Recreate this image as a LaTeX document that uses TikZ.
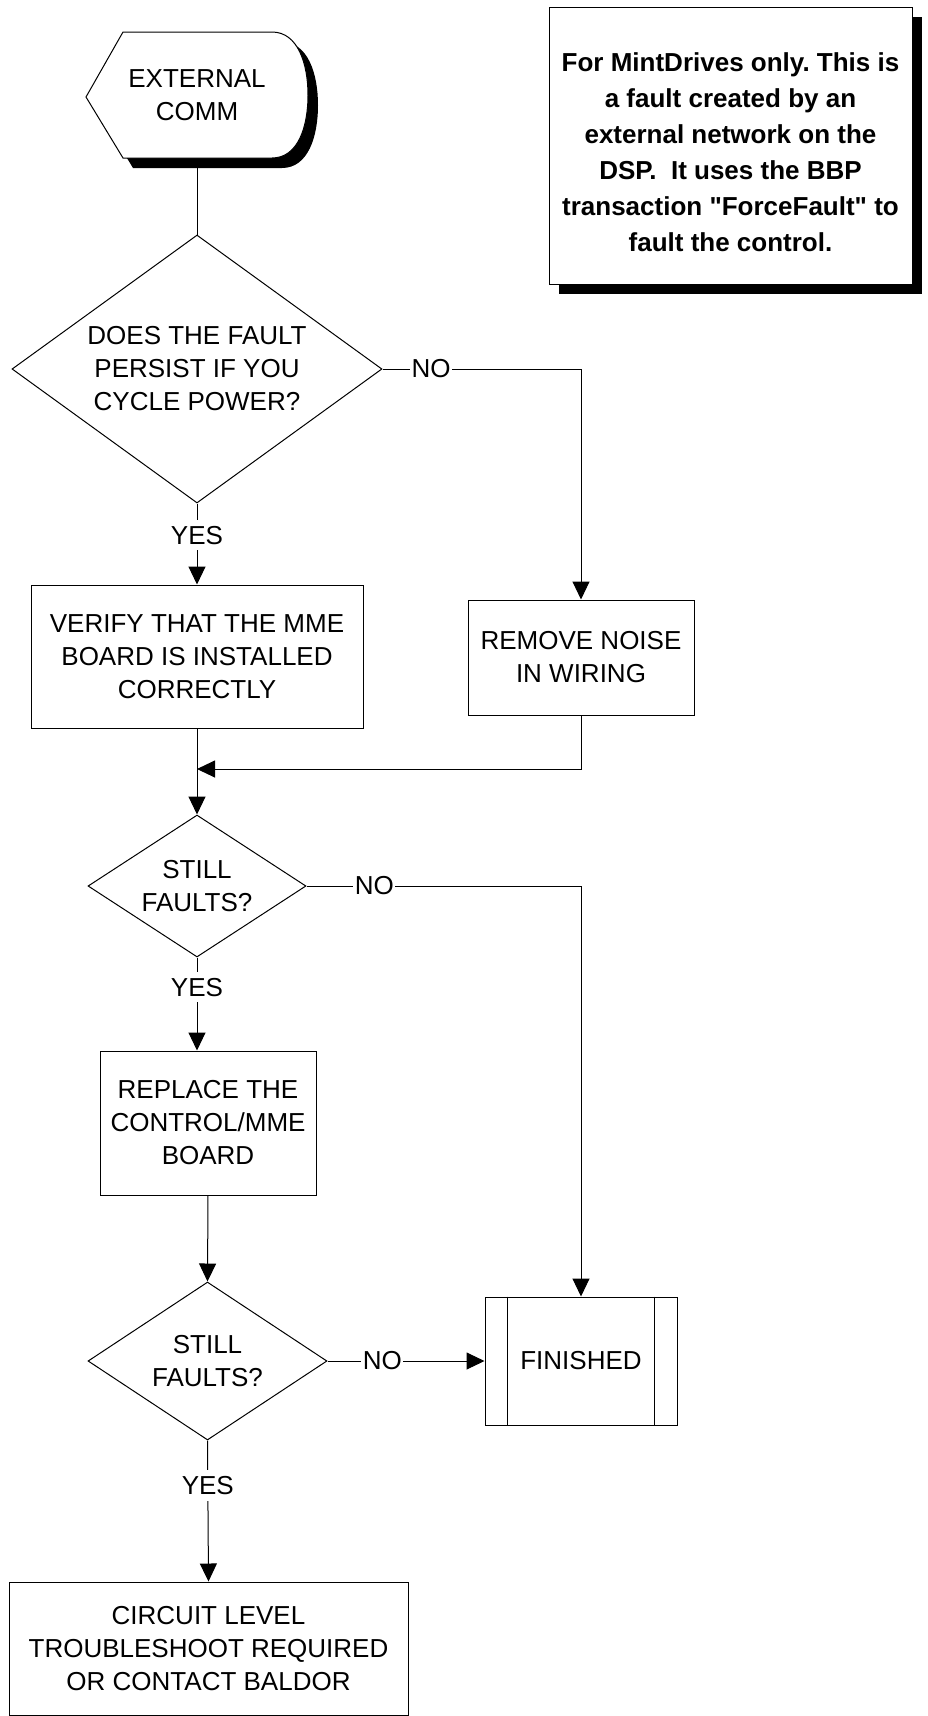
\documentclass[tikz,border=0pt]{standalone}
\usepackage{fontspec}
\setmainfont{Liberation Sans}
\newfontfamily\qfont{Liberation Sans}
\usetikzlibrary{shapes.geometric,arrows.meta}
\frenchspacing
\newcommand{\sq}{{\qfont\symbol{34}}}
\begin{document}
\begin{tikzpicture}[x=1pt,y=-1pt,line width=1pt,
  txt/.style={font=\fontsize{26}{33}\selectfont, align=center},
  stepbox/.style n args={2}{txt, draw, fill=white, minimum width=#1, minimum height=#2, inner sep=0pt},
  decision/.style n args={3}{txt, draw, shape=diamond, aspect=#3, minimum width=#1, minimum height=#2, inner sep=0pt},
  lbl/.style={txt, fill=white, inner xsep=1.5pt, inner ysep=6pt},
  arr/.style={-{Triangle[length=18pt,width=17pt]}},
  notetext/.style={font=\fontsize{26}{36}\selectfont\bfseries, align=center, inner sep=0pt}
]
\useasboundingbox (0,0) rectangle (927,1716);

% EXTERNAL COMM terminal with shadow
\fill[black, shift={(10,10)}] (86,97) -- (123,32) -- (272,32) .. controls (298,32) and (308,64) .. (308,95) .. controls (308,127) and (298,158) .. (272,158) -- (123,158) -- cycle;
\draw[fill=white] (86,97) -- (123,32) -- (272,32) .. controls (298,32) and (308,64) .. (308,95) .. controls (308,127) and (298,158) .. (272,158) -- (123,158) -- cycle;
\node[txt, minimum width=222, minimum height=126, inner sep=0pt] (ext) at (197,95) {EXTERNAL\\COMM};

% Note with shadow
\fill[black] (559,17) rectangle (922,294);
\node[draw, fill=white, minimum width=363, minimum height=277, inner sep=0pt] (note) at (730.5,145.5) {};
\node[notetext] (notetxt) at (730.5,152.5) {For MintDrives only. This is\\a fault created by an\\external network on the\\DSP.\ \ It uses the BBP\\transaction \sq ForceFault\sq{} to\\fault the control.};

% Decisions and steps
\node[decision={370}{268}{1.38}] (d1) at (197,369) {DOES THE FAULT\\PERSIST IF YOU\\CYCLE POWER?};
\node[stepbox={332}{143}] (verify) at (197,656.5) {VERIFY THAT THE MME\\BOARD IS INSTALLED\\CORRECTLY};
\node[stepbox={226}{115}] (remove) at (581,657.5) {REMOVE NOISE\\IN WIRING};
\coordinate (m) at (197,769);
\node[decision={218}{142}{1.535}] (d2) at (197,886) {STILL\\FAULTS?};
\node[stepbox={216}{144}] (replace) at (208,1123) {REPLACE THE\\CONTROL/MME\\BOARD};
\node[decision={239}{158}{1.51}] (d3) at (207.5,1361) {STILL\\FAULTS?};
\node[stepbox={192}{128}] (fin) at (581,1361) {FINISHED};
\draw ([xshift=23pt]fin.north west) -- ([xshift=23pt]fin.south west);
\draw ([xshift=-23pt]fin.north east) -- ([xshift=-23pt]fin.south east);
\node[stepbox={399}{133}] (circuit) at (208.5,1648.5) {CIRCUIT LEVEL\\TROUBLESHOOT REQUIRED\\OR CONTACT BALDOR};

% Connectors
\draw (ext.south) -- (d1.north);
\draw[arr] (d1.east) -- node[lbl, pos=0.245] {NO} (d1.east -| remove.north) -- (remove.north);
\draw[arr] (d1.south) -- node[lbl, pos=0.39] {YES} (verify.north);
\draw[arr] (verify.south) -- (d2.north);
\draw[arr] (remove.south) |- (m);
\draw[arr] (d2.east) -- node[lbl, pos=0.247] {NO} (d2.east -| fin.north) -- (fin.north);
\draw[arr] (d2.south) -- node[lbl, pos=0.32] {YES} (d2.south |- replace.north);
\draw[arr] (replace.south) -- (d3.north);
\draw[arr] (d3.east) -- node[lbl, pos=0.35] {NO} (fin.west);
\draw[arr] (d3.south) -- node[lbl, pos=0.32] {YES} (circuit.north);
\end{tikzpicture}
\end{document}
